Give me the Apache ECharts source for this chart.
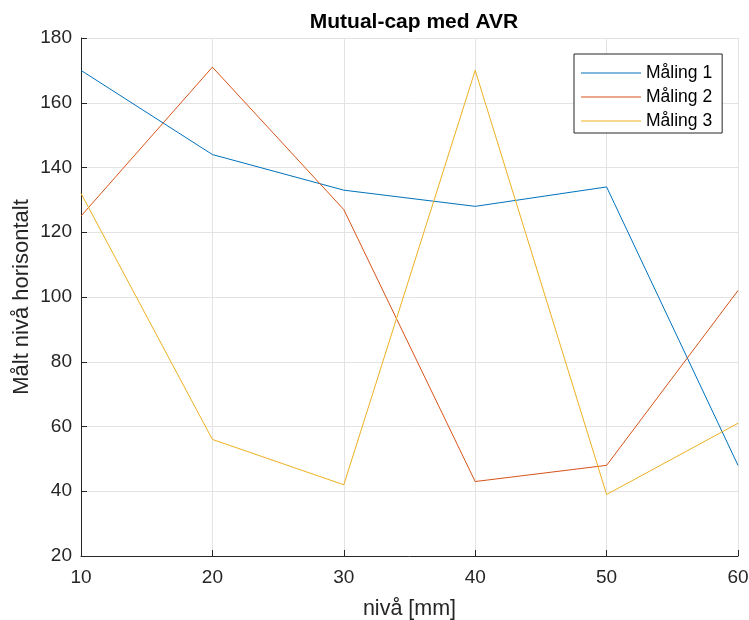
<!DOCTYPE html>
<html><head><meta charset="utf-8">
<script src="https://cdn.jsdelivr.net/npm/echarts@6/dist/echarts.min.js"></script>
<style>html,body{margin:0;padding:0;background:#fff}#c{width:749px;height:620px}</style>
</head><body><div id="c"></div>
<script>
const xValues = [10, 20, 30, 40, 50, 60];
const maling1 = [170, 144, 133, 128, 134, 48];
const maling2 = [125, 171, 127, 43, 48, 102];
const maling3 = [132, 56, 42, 170, 39, 61];
const seriesNames = ['Måling 1', 'Måling 2', 'Måling 3'];
const colors = ['#0072BD', '#D95319', '#EDB120'];
const titleText = 'Mutual-cap med AVR';
const xLabel = 'nivå [mm]';
const yLabel = 'Målt nivå horisontalt';

const font = 'Liberation Sans, Arial, Helvetica, sans-serif';
const chart = echarts.init(document.getElementById('c'), null, {renderer: 'canvas'});
const mk = (arr) => xValues.map((x, i) => [x, arr[i]]);
const allData = [maling1, maling2, maling3];
chart.setOption({
  animation: false,
  backgroundColor: '#fff',
  title: {text: titleText, left: 409, textAlign: 'center', top: 7,
    textStyle: {fontFamily: font, fontSize: 21, fontWeight: 'bold', color: '#000'}},
  grid: {left: 81, right: 11, top: 38, bottom: 64, containLabel: false, outerBoundsMode: 'none'},
  legend: {
    orient: 'vertical', left: 574, top: 54, width: 148,
    backgroundColor: '#fff', borderColor: '#262626', borderWidth: 1,
    padding: [10, 10, 3, 7], itemGap: 6, itemWidth: 60, itemHeight: 1,
    textStyle: {fontFamily: font, fontSize: 17.5, color: '#000', padding: [0, 0, 0, 0], lineHeight: 18},
    data: seriesNames.map(n => ({name: n, icon: 'rect'}))
  },
  xAxis: {
    type: 'value', min: 10, max: 60, interval: 10,
    name: xLabel, nameLocation: 'middle', nameGap: 42,
    nameTextStyle: {fontFamily: font, fontSize: 21.5, color: '#262626'},
    axisLine: {show: true, onZero: false, lineStyle: {color: '#262626', width: 1}},
    axisTick: {show: true, inside: true, length: 6, lineStyle: {color: '#262626'}},
    axisLabel: {fontFamily: font, fontSize: 19, color: '#262626', margin: 12},
    splitLine: {show: true, lineStyle: {color: '#e3e3e3', width: 1}}
  },
  yAxis: {
    type: 'value', min: 20, max: 180, interval: 20,
    name: yLabel, nameLocation: 'middle', nameGap: 48, nameRotate: 90, nameMoveOverlap: false,
    nameTextStyle: {fontFamily: font, fontSize: 22, color: '#262626'},
    axisLine: {show: true, onZero: false, lineStyle: {color: '#262626', width: 1}},
    axisTick: {show: true, inside: true, length: 6, lineStyle: {color: '#262626'}},
    axisLabel: {fontFamily: font, fontSize: 19, color: '#262626', margin: 9},
    splitLine: {show: true, lineStyle: {color: '#e3e3e3', width: 1}}
  },
  series: seriesNames.map((n, i) => ({
    name: n, type: 'line', data: mk(allData[i]), symbol: 'none',
    color: colors[i], lineStyle: {width: 1, color: colors[i]}
  }))
});
</script></body></html>
